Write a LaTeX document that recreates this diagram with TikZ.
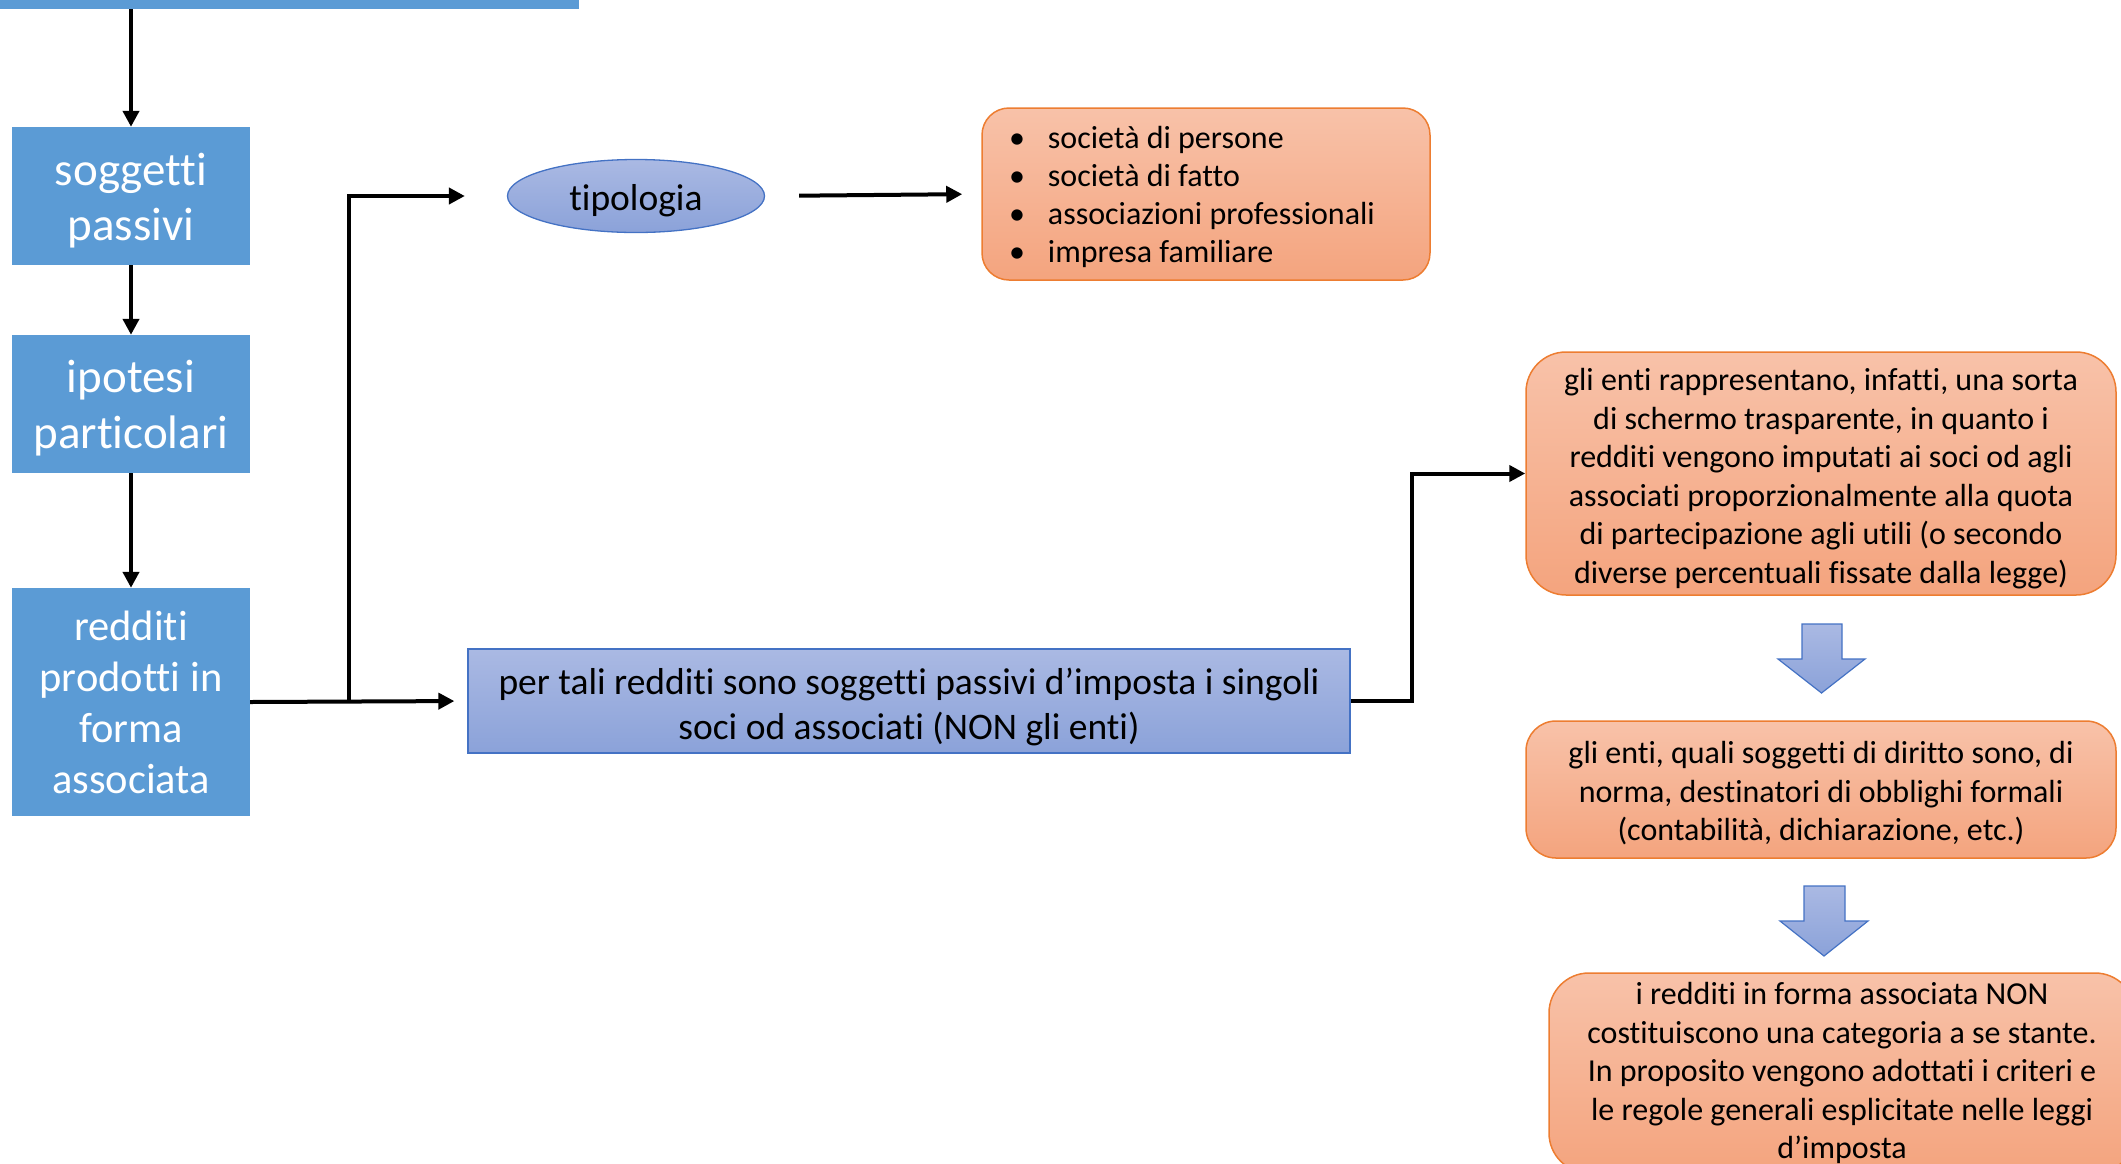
\documentclass[tikz,border=0pt]{standalone}
\usepackage{fontspec}
\setmainfont{Carlito}[Ligatures={NoCommon}]
\usetikzlibrary{arrows.meta,shapes.geometric}
\definecolor{leftblue}{HTML}{5B9BD5}
\definecolor{lavtop}{HTML}{AAB9E3}
\definecolor{lavbot}{HTML}{8BA2D9}
\definecolor{lavedge}{HTML}{4472C4}
\definecolor{ortop}{HTML}{F8C2A9}
\definecolor{orbot}{HTML}{F4A47E}
\definecolor{oredge}{HTML}{ED7D31}
\newcommand{\mlines}[2]{\raisebox{-#1pt}[\height][\depth]{\begin{tabular}{@{}c@{}}#2\end{tabular}}}
\begin{document}
\begin{tikzpicture}[x=1pt,y=-1pt,
  leftbox/.style={rectangle, fill=leftblue, text=white, minimum width=238pt, inner sep=0pt},
  lavbox/.style={top color=lavtop, bottom color=lavbot, draw=lavedge, line width=1.3pt, inner sep=0pt, font=\fontsize{37.5}{45}\selectfont},
  orbox/.style={top color=ortop, bottom color=orbot, draw=oredge, line width=1.5pt, inner sep=0pt, font=\fontsize{32}{38.5}\selectfont},
  arr/.style={line width=4pt, -{Triangle[length=16pt,width=16pt]}},
  blockarr/.style={top color=lavtop, bottom color=lavbot, draw=lavedge, line width=1.2pt}
]
\useasboundingbox (0,0) rectangle (2121,1163);
\clip (0,0) rectangle (2121,1163);

\node[rectangle, fill=leftblue, minimum width=579pt, minimum height=9pt, inner sep=0pt, anchor=north west] (bar) at (0,0) {};

\node[leftbox, minimum height=138pt, font=\fontsize{47}{55}\selectfont] (soggetti) at (131,196) {\mlines{6}{soggetti\\passivi}};
\node[leftbox, minimum height=138pt, font=\fontsize{47}{56}\selectfont] (ipotesi) at (131,404) {\mlines{5}{ipotesi\\particolari}};
\node[leftbox, minimum height=228pt, font=\fontsize{42.5}{51}\selectfont] (redditi) at (131,702) {\mlines{5}{redditi\\prodotti in\\forma\\associata}};

\node[lavbox, ellipse, minimum width=257pt, minimum height=73pt] (tipologia) at (636,196) {\mlines{5}{tipologia}};

\node[orbox, rounded corners=27pt, minimum width=448pt, minimum height=172pt, inner xsep=27pt, font=\fontsize{32}{38}\selectfont] (list) at (1206,194)
  {\raisebox{-4pt}[\height][\depth]{\makebox[394pt][l]{\begin{tabular}{@{}l@{\hspace{23pt}}l@{}}
   \textbullet & società di persone\\
   \textbullet & società di fatto\\
   \textbullet & associazioni professionali\\
   \textbullet & impresa familiare
   \end{tabular}}}};

\node[lavbox, rectangle, minimum width=882pt, minimum height=104pt] (pertali) at (909,701)
  {\mlines{7}{per tali redditi sono soggetti passivi d’imposta i singoli\\soci od associati (NON gli enti)}};

\node[orbox, rounded corners=40pt, minimum width=590pt, minimum height=243pt] (box1) at (1821,473.5)
  {\mlines{6}{gli enti rappresentano, infatti, una sorta\\di schermo trasparente, in quanto i\\redditi vengono imputati ai soci od agli\\associati proporzionalmente alla quota\\di partecipazione agli utili (o secondo\\diverse percentuali fissate dalla legge)}};

\node[orbox, rounded corners=30pt, minimum width=590pt, minimum height=137pt] (box2) at (1821,789.5)
  {\mlines{5}{gli enti, quali soggetti di diritto sono, di\\norma, destinatori di obblighi formali\\(contabilità, dichiarazione, etc.)}};

\node[orbox, rounded corners=40pt, minimum width=586pt, minimum height=200pt] (box3) at (1842,1073)
  {\mlines{1}{i redditi in forma associata NON\\costituiscono una categoria a se stante.\\In proposito vengono adottati i criteri e\\le regole generali esplicitate nelle leggi\\d’imposta}};

% connectors
\draw[arr] (soggetti.north |- bar.south) -- (soggetti.north);
\draw[arr] (soggetti) -- (ipotesi);
\draw[arr] (ipotesi) -- (redditi);
\draw[arr, shorten >=13pt] (redditi.east) -- (pertali.west);
\coordinate (j) at (redditi.east -| 349,0);
\draw[arr, shorten >=42pt] (j) |- (tipologia.west);
\draw[arr, shorten <=34pt, shorten >=19pt] (tipologia.east) -- (list.west);
\draw[arr] (pertali.east) -- ++(61,0) |- (box1.west);

% block arrows
\path[blockarr] (1802,624) -- (1842,624) -- (1842,659) -- (1865,659) -- (1821.5,693) -- (1778,659) -- (1802,659) -- cycle;
\path[blockarr] (1804,886) -- (1845,886) -- (1845,921) -- (1868,921) -- (1824,956) -- (1780,921) -- (1804,921) -- cycle;
\end{tikzpicture}
\end{document}
